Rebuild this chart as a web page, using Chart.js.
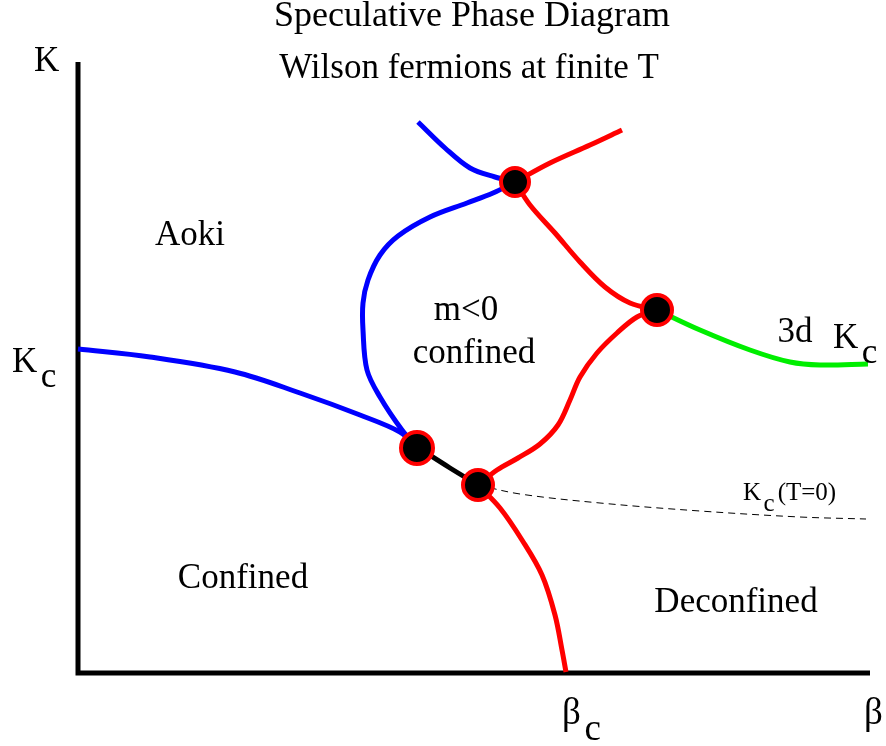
<!DOCTYPE html>
<html>
<head>
<meta charset="utf-8">
<script src="https://cdn.jsdelivr.net/npm/chart.js@4.4.1/dist/chart.umd.min.js"></script>
<style>
  html, body { margin: 0; padding: 0; background: #fff; }
  #wrap { width: 886px; height: 746px; }
</style>
</head>
<body>
<div id="wrap"><canvas id="phase"></canvas></div>
<script>
// Coordinates: beta measured from the vertical axis, K measured up from the horizontal axis
const axisBeta = [0, 0, 792];
const axisK = [611, 0, 0];

const blueLowBeta = [0, 72, 157, 222, 282, 322, 339];
const blueLowK = [324, 316, 301, 280, 258, 241, 226];

const blueLoopBeta = [339, 324, 302, 289, 285, 285, 290, 302, 320, 352, 389, 415, 437];
const blueLoopK = [226, 243, 276, 303, 343, 370, 393, 418, 437, 456, 470, 480, 491];

const blueTopBeta = [340, 367, 392, 417, 437];
const blueTopK = [551, 525, 505, 496, 491];

const redTopBeta = [437, 472, 512, 544];
const redTopK = [491, 510, 528, 543];

const redUpperBeta = [437, 452, 477, 502, 527, 552, 579];
const redUpperK = [491, 468, 440, 411, 386, 370, 363];

const redMidBeta = [579, 559, 539, 519, 502, 492, 480, 462, 440, 419, 400];
const redMidK = [363, 356, 340, 320, 296, 273, 248, 229, 215, 203, 188];

const redLowBeta = [400, 422, 444, 464, 477, 484, 488];
const redLowK = [188, 165, 133, 98, 58, 23, 1];

const blackBeta = [339, 372, 400];
const blackK = [226, 205, 188];

const greenBeta = [579, 622, 672, 712, 742, 790];
const greenK = [363, 343, 323, 311, 308, 309];

const dashBeta = [400, 442, 522, 622, 722, 788];
const dashK = [188, 179, 170, 162, 156, 154];

const nodeBeta = [339, 437, 579, 400];
const nodeK = [225, 491, 363, 188];
const nodeSize = [16, 14, 15, 15];

// text labels
const labelText = ['Speculative Phase Diagram', 'Wilson fermions at finite T', 'K', 'Aoki', 'm<0', 'confined',
  'K', '3d', 'K', 'K', 'Confined', 'Deconfined', 'β', 'β'];
const labelSub = ['', '', '', '', '', '', 'c', '', 'c', 'c', '', '', 'c', ''];
const labelTail = ['', '', '', '', '', '', '', '', '', '(T=0)', '', '', '', ''];
const labelBeta = [394, 391, -44, 112, 388, 396, -66, 717, 755, 665, 165, 658, 484, 786];
const labelK = [647, 595, 602, 428, 353, 310, 301, 331, 325, 173, 85, 61, -51, -51];
const labelAlign = ['center', 'center', 'left', 'center', 'center', 'center', 'left', 'center', 'left', 'left', 'center', 'center', 'left', 'left'];
const labelSize = [36, 35, 35, 35, 35, 35, 35, 35, 35, 25, 35, 35, 37, 37];

function pts(xs, ys) {
  return xs.map((x, i) => ({ x: x, y: ys[i] }));
}

function curve(xs, ys, color, width, extra) {
  return Object.assign({
    type: 'line',
    data: pts(xs, ys),
    borderColor: color,
    borderWidth: width,
    pointRadius: 0,
    tension: 0.35,
    fill: false,
    order: 2
  }, extra || {});
}

const labelPlugin = {
  id: 'labels',
  afterDatasetsDraw(chart) {
    const ctx = chart.ctx;
    const xs = chart.scales.x;
    const ys = chart.scales.y;
    ctx.save();
    ctx.fillStyle = '#000';
    ctx.textBaseline = 'alphabetic';
    labelText.forEach((t, i) => {
      const px = xs.getPixelForValue(labelBeta[i]);
      const py = ys.getPixelForValue(labelK[i]);
      const size = labelSize[i];
      ctx.font = size + 'px "Liberation Serif", "DejaVu Serif", serif';
      ctx.textAlign = labelAlign[i];
      ctx.fillText(t, px, py);
      if (labelSub[i] || labelTail[i]) {
        ctx.textAlign = 'left';
        let x = px + ctx.measureText(t).width + size * 0.1;
        if (labelSub[i]) {
          ctx.fillText(labelSub[i], x, py + size * 0.42);
          x += ctx.measureText(labelSub[i]).width + size * 0.12;
        }
        if (labelTail[i]) {
          ctx.fillText(labelTail[i], x, py);
        }
      }
    });
    ctx.restore();
  }
};

new Chart(document.getElementById('phase'), {
  type: 'scatter',
  data: {
    datasets: [
      {
        type: 'scatter',
        data: pts(nodeBeta, nodeK),
        pointRadius: nodeSize,
        pointHoverRadius: nodeSize,
        backgroundColor: '#000',
        borderColor: '#ff0000',
        borderWidth: 4,
        order: 0
      },
      curve(blueLowBeta, blueLowK, '#0000ff', 5),
      curve(blueLoopBeta, blueLoopK, '#0000ff', 5),
      curve(blueTopBeta, blueTopK, '#0000ff', 5),
      curve(redTopBeta, redTopK, '#ff0000', 5),
      curve(redUpperBeta, redUpperK, '#ff0000', 5),
      curve(redMidBeta, redMidK, '#ff0000', 5),
      curve(redLowBeta, redLowK, '#ff0000', 5),
      curve(blackBeta, blackK, '#000000', 5, { order: 1 }),
      curve(greenBeta, greenK, '#00ee00', 5),
      curve(dashBeta, dashK, '#000000', 1, { borderDash: [7, 5] }),
      curve(axisBeta, axisK, '#000000', 5, { tension: 0 })
    ]
  },
  options: {
    responsive: true,
    maintainAspectRatio: false,
    animation: false,
    layout: { padding: 0, autoPadding: false },
    plugins: {
      legend: { display: false },
      tooltip: { enabled: false },
      title: { display: false }
    },
    scales: {
      x: { type: 'linear', min: -78, max: 808, display: false },
      y: { type: 'linear', min: -73, max: 673, display: false }
    }
  },
  plugins: [labelPlugin]
});
</script>
</body>
</html>
